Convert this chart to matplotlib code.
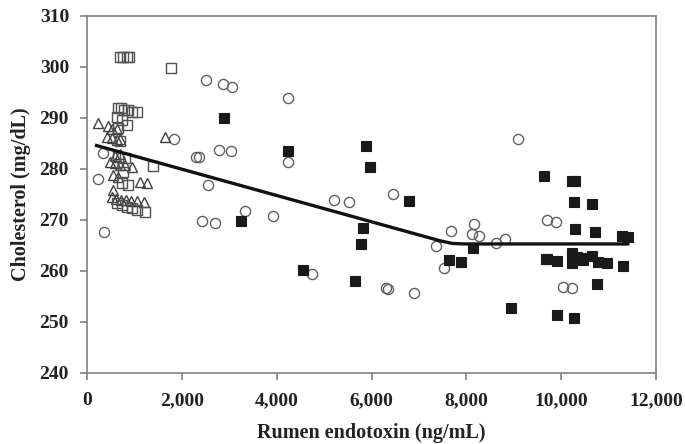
import matplotlib.pyplot as plt
import matplotlib.ticker as mticker

plt.rcParams['font.family'] = ['Liberation Serif', 'DejaVu Serif']
plt.rcParams['font.weight'] = 'bold'

# open triangles
tri_x = [230, 440, 530, 630, 420, 530, 630, 700, 1645, 485, 590, 700, 800, 950,
         550, 650, 1120, 1265, 550, 530, 620, 720, 820, 920, 1050, 1200, 600, 700]
tri_y = [289.0, 288.4, 287.8, 287.9, 286.3, 286.0, 285.7, 285.8, 286.3, 281.4, 281.2, 280.8, 280.8, 280.4,
         278.8, 278.5, 277.4, 277.2, 275.9, 274.5, 274.2, 274.0, 273.9, 273.8, 273.7, 273.6, 282.5, 283.0]

# open squares
osq_x = [700, 760, 840, 890, 1770, 650, 720, 780, 860, 950, 1050, 630, 740, 840, 650,
         1390, 650, 800, 740, 870, 630, 740, 840, 950, 1050, 1220, 700, 760]
osq_y = [302.0, 302.0, 302.0, 302.0, 299.8, 292.0, 292.0, 291.6, 291.6, 291.2, 291.2, 290.2, 289.6, 288.6, 288.0,
         280.6, 282.4, 282.1, 277.3, 276.9, 273.3, 272.9, 272.5, 272.3, 271.9, 271.6, 285.5, 279.5]

# open circles
circ_x = [232, 359, 337, 1835, 2510, 2868, 3058, 2299, 2362, 2784, 3037, 2552, 2425, 2700,
          3332, 3923, 4239, 4239, 5209, 5526, 4750, 6454, 7361, 7529, 7677, 8162, 8120, 8267,
          8626, 8816, 9090, 6306, 6348, 6896, 9700, 9890, 10040, 10230]
circ_y = [278.0, 267.6, 283.1, 285.9, 297.4, 296.7, 296.1, 282.4, 282.4, 283.7, 283.5, 276.9, 269.8, 269.4,
          271.8, 270.8, 294.0, 281.4, 273.9, 273.5, 259.5, 275.1, 264.9, 260.6, 267.8, 269.2, 267.3, 266.9,
          265.5, 266.3, 285.9, 256.7, 256.5, 255.7, 270.0, 269.6, 256.9, 256.7]

# filled squares
fsq_x = [2890, 4239, 3248, 4555, 5884, 5968, 6791, 5821, 5779, 5652, 7635, 7888, 8141, 8942,
         9638, 9680, 10230, 10290, 10270, 10650, 10290, 10710, 11280, 11410, 9700, 9910,
         10230, 10330, 10440, 10230, 10460, 10650, 10780, 10970, 11300, 10760, 9910, 10270]
fsq_y = [290.0, 283.5, 269.8, 260.2, 284.5, 280.4, 273.7, 268.4, 265.3, 258.0, 262.2, 261.8, 264.5, 252.7,
         278.6, 262.3, 277.6, 277.6, 273.5, 273.1, 268.2, 267.6, 266.9, 266.7, 262.3, 261.9,
         263.5, 262.8, 262.5, 261.5, 262.1, 263.0, 261.8, 261.5, 261.0, 257.4, 251.4, 250.8]

# fitted broken-line model
fit_x = [200, 7450, 7700, 7950, 11400]
fit_y = [284.6, 265.9, 265.4, 265.3, 265.3]

fig = plt.figure(figsize=(6.85, 4.44), dpi=100)
ax = fig.add_axes([0.127, 0.160, 0.831, 0.804])

gray = '#606060'
ax.plot(circ_x, circ_y, 'o', ms=7.3, mfc='none', mec=gray, mew=1.0)
ax.plot(tri_x, tri_y, '^', ms=7, mfc='none', mec='#404040', mew=1.0)
ax.plot(osq_x, osq_y, 's', ms=6.5, mfc='none', mec='#505050', mew=1.0)
ax.plot(fsq_x, fsq_y, 's', ms=6.7, mfc='#1a1a1a', mec='#1a1a1a', mew=0.8)
ax.plot(fit_x, fit_y, '-', color='#111111', lw=2.4)

ax.set_xlim(0, 12000)
ax.set_ylim(240, 310)
ax.set_xticks(range(0, 12001, 2000))
ax.set_yticks(range(240, 311, 10))
ax.xaxis.set_major_formatter(mticker.FuncFormatter(lambda v, p: '{:,.0f}'.format(v)))

for s in ax.spines.values():
    s.set_color('#808080')
    s.set_linewidth(1.2)
ax.tick_params(direction='out', length=5, width=1.2, color='#808080',
               labelsize=14, labelcolor='#222222')
ax.tick_params(axis='y', pad=8)
ax.tick_params(axis='x', pad=9)

ax.set_xlabel('Rumen endotoxin (ng/mL)', fontsize=14.5, fontweight='bold', color='#222222')
ax.set_ylabel('Cholesterol (mg/dL)', fontsize=14.5, fontweight='bold', color='#222222')
ax.xaxis.set_label_coords(0.5, -0.14)
ax.yaxis.set_label_coords(-0.098, 0.5)

fig.savefig('out.png', dpi=100)
